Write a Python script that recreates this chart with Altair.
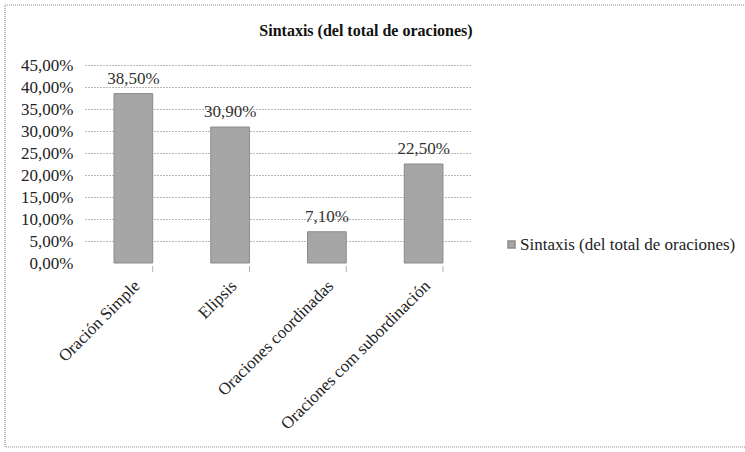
import altair as alt
import pandas as pd

# Share of each sentence type in the total of sentences
categorias = ["Oración Simple", "Elipsis", "Oraciones coordinadas", "Oraciones com subordinación"]
porcentajes = [0.385, 0.309, 0.071, 0.225]
serie = "Sintaxis (del total de oraciones)"
ticks_y = [0, 0.05, 0.10, 0.15, 0.20, 0.25, 0.30, 0.35, 0.40, 0.45]

df = pd.DataFrame({"categoria": categorias, "valor": porcentajes, "serie": [serie] * len(categorias)})

FONT = "Liberation Serif"
W, H = 387, 198
PAD = {"left": 85, "top": 65, "right": 745 - 85 - W, "bottom": 452 - 65 - H}

x_scale = alt.Scale(paddingInner=0.6, paddingOuter=0.3)
y_scale = alt.Scale(domain=[0, 0.45], nice=False)

x_axis = alt.Axis(
    labelAngle=-45,
    labelAlign="right",
    labelBaseline="middle",
    labelFont=FONT,
    labelFontSize=17,
    labelColor="#222222",
    labelPadding=20,
    labelOffset=4,
    labelLimit=300,
    domain=False,
    ticks=False,
    grid=False,
)

y_axis = alt.Axis(
    values=ticks_y,
    labelOverlap=False,
    labelExpr="replace(format(datum.value, '.2%'), '.', ',')",
    labelFont=FONT,
    labelFontSize=17,
    labelColor="#222222",
    labelPadding=12,
    domain=False,
    ticks=False,
    grid=True,
    gridColor="#6e6e6e",
    gridDash=[1, 2],
    gridWidth=1,
    gridOpacity={"condition": {"test": "datum.value == 0", "value": 0}, "value": 1},
)

x_enc = alt.X("categoria:N", sort=categorias, scale=x_scale, title=None, axis=x_axis)
y_enc = alt.Y("valor:Q", scale=y_scale, title=None, axis=y_axis)

bars = alt.Chart(df).mark_bar(stroke="#8a8a8a", strokeWidth=1).encode(
    x=x_enc,
    y=y_enc,
    color=alt.Color(
        "serie:N",
        scale=alt.Scale(range=["#a6a6a6"]),
        legend=alt.Legend(
            title=None,
            orient="none",
            legendX=418,
            legendY=171,
            symbolType="square",
            symbolSize=49,
            symbolStrokeColor="#8a8a8a",
            labelOffset=0,
            labelFont=FONT,
            labelFontSize=17,
            labelColor="#222222",
            labelLimit=400,
        ),
    ),
)

labels = alt.Chart(df).transform_calculate(
    etiqueta="replace(format(datum.valor, '.2%'), '.', ',')"
).mark_text(
    font=FONT, fontSize=17, color="#333333", baseline="bottom", dy=-6
).encode(x=x_enc, y=y_enc, text="etiqueta:N")

# small category separator ticks under the baseline
sep = alt.Chart(df).mark_rule(color="#b0b0b0", strokeWidth=1).encode(
    x=alt.X("categoria:N", sort=categorias, scale=x_scale, title=None, axis=x_axis, bandPosition=1),
    y=alt.value(H + 3),
    y2=alt.value(H + 9),
)

single = pd.DataFrame({"titulo": [serie]})

# dotted chart frame
frame = alt.Chart(single).mark_rect(
    fill=None, stroke="#8c8c8c", strokeDash=[1, 1], strokeWidth=1.2
).encode(
    x=alt.value(5 - 85),
    x2=alt.value(760 - 85),
    y=alt.value(5 - 65),
    y2=alt.value(447 - 65),
)

# chart title
title = alt.Chart(single).mark_text(
    font=FONT, fontSize=16, fontWeight="bold", color="#111111", align="center", baseline="middle"
).encode(
    x=alt.value(366 - 85),
    y=alt.value(31 - 65),
    text="titulo:N",
)

chart = (
    alt.layer(frame, bars, labels, sep, title)
    .properties(
        width=W,
        height=H,
        padding=PAD,
        background="white",
        autosize=alt.AutoSizeParams(type="none"),
    )
    .configure_view(strokeOpacity=0)
)

chart.save("out.html", embed_options={"renderer": "svg", "actions": False})
